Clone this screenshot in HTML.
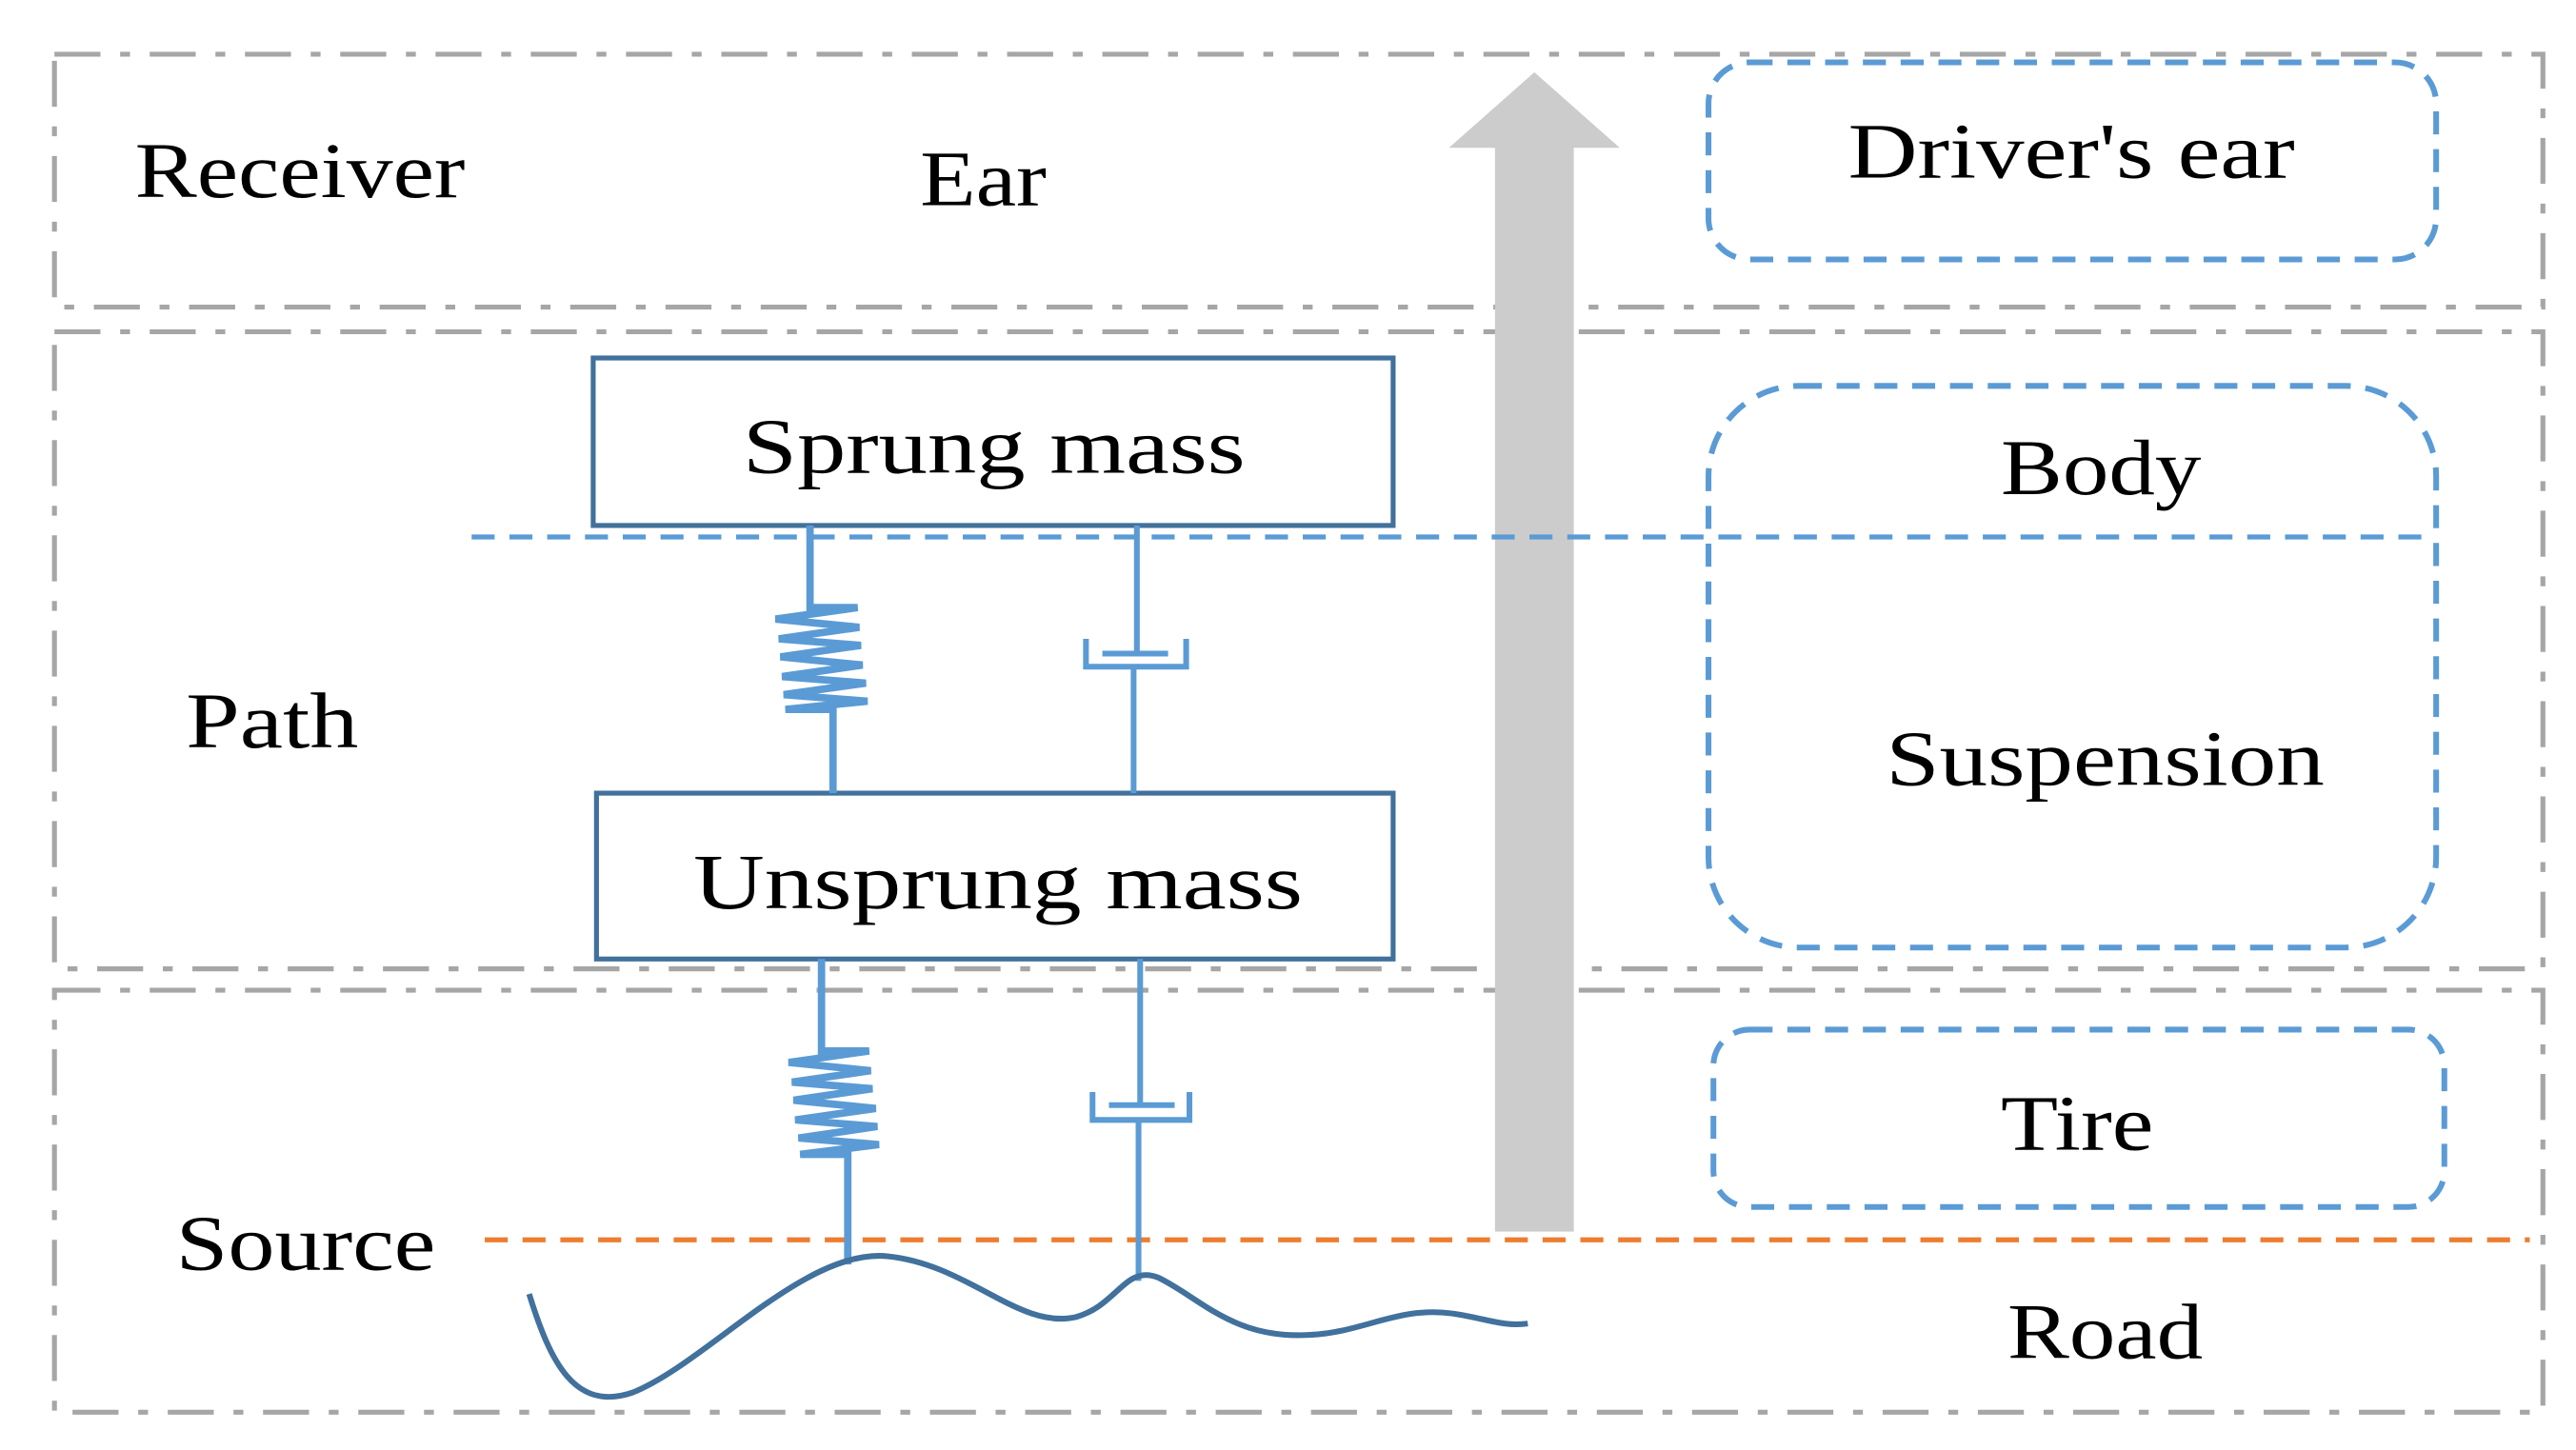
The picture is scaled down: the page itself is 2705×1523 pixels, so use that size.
<!DOCTYPE html>
<html><head><meta charset="utf-8"><style>
html,body{margin:0;padding:0;background:#fff;}
svg{display:block;}
text{font-family:"Liberation Serif",serif;fill:#000;}
</style></head><body>
<svg width="2705" height="1523" viewBox="0 0 1568 883" xmlns="http://www.w3.org/2000/svg">
<g fill="none" stroke="#a6a6a6" stroke-width="3" stroke-dasharray="28,12,6,12">
<rect x="33" y="33" width="1515" height="154"/>
<rect x="33" y="202" width="1515" height="388"/>
<rect x="33" y="603" width="1515" height="257"/>
</g>
<g font-size="48">
<text x="82" y="120" textLength="201" lengthAdjust="spacingAndGlyphs">Receiver</text>
<text x="560" y="125" textLength="77" lengthAdjust="spacingAndGlyphs">Ear</text>
<text x="113" y="455" textLength="105" lengthAdjust="spacingAndGlyphs">Path</text>
<text x="107" y="773" textLength="158" lengthAdjust="spacingAndGlyphs">Source</text>
<text x="1125" y="108" textLength="272" lengthAdjust="spacingAndGlyphs">Driver's ear</text>
<text x="1218" y="301" textLength="122" lengthAdjust="spacingAndGlyphs">Body</text>
<text x="1148" y="478" textLength="267" lengthAdjust="spacingAndGlyphs">Suspension</text>
<text x="1218" y="700" textLength="93" lengthAdjust="spacingAndGlyphs">Tire</text>
<text x="1222" y="827" textLength="119" lengthAdjust="spacingAndGlyphs">Road</text>
</g>
<rect x="910" y="88" width="48" height="662" fill="#cccccc"/>
<polygon points="882,90 986,90 934,44" fill="#cccccc"/>
<g fill="none" stroke="#5b9bd5" stroke-width="3.5" stroke-dasharray="14,9">
<rect x="1040" y="38" width="443" height="120" rx="25"/>
<rect x="1040" y="235" width="443" height="342" rx="55"/>
<rect x="1043" y="627" width="445" height="108" rx="22"/>
<line x1="287" y1="327" x2="1478" y2="327" stroke-width="3"/>
</g>
<line x1="295" y1="755" x2="1540" y2="755" stroke="#ed7d31" stroke-width="3" stroke-dasharray="14,9"/>
<g fill="#fff" stroke="#41719c" stroke-width="3">
<rect x="361" y="218" width="487" height="102"/>
<rect x="363" y="483" width="485" height="101"/>
</g>
<g font-size="48">
<text x="452" y="288" textLength="306" lengthAdjust="spacingAndGlyphs">Sprung mass</text>
<text x="422" y="553" textLength="371" lengthAdjust="spacingAndGlyphs">Unsprung mass</text>
</g>
<g fill="none" stroke="#5b9bd5" stroke-width="3.5">
<g stroke-width="4.5">
<polyline points="493,320 493,370 522,370 472,377 523,382 474,389 524,393 475,400 525,405 476,412 527,416 477,423 528,427 478,432 507,432 507,483"/>
<polyline points="500,584 500,640 529,640 480,647 530,652 482,659 531,663 483,670 533,675 484,682 534,686 486,693 535,697 487,703 516,703 516,770"/>
</g>
<line x1="692" y1="320" x2="692" y2="398"/>
<line x1="671" y1="398" x2="711" y2="398"/>
<polyline points="661,389 661,406 722,406 722,389"/>
<line x1="690" y1="406" x2="690" y2="483"/>
<line x1="694" y1="584" x2="694" y2="673"/>
<line x1="675" y1="673" x2="715" y2="673"/>
<polyline points="665,665 665,682 724,682 724,665"/>
<line x1="693" y1="682" x2="693" y2="780"/>
</g>
<path d="M322,788 C335,830 350,860 385,848 C430,830 490,760 540,765 C590,770 620,810 655,802 C680,795 685,770 705,778 C730,790 750,815 795,813 C830,812 850,795 885,800 C905,803 915,808 930,806" fill="none" stroke="#41719c" stroke-width="3.5"/>
</svg>
</body></html>
